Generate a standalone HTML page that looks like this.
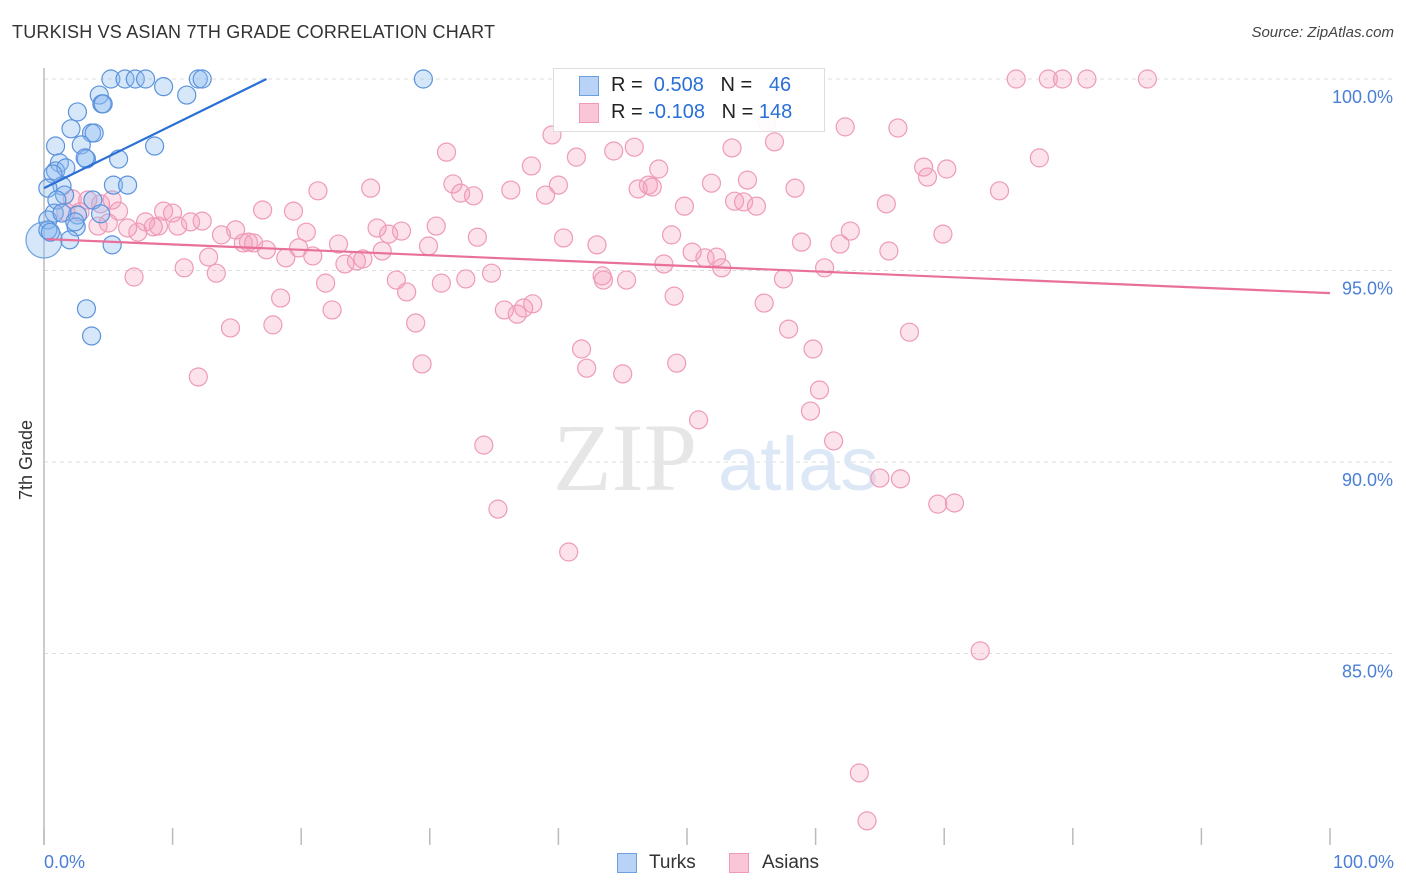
<!DOCTYPE html>
<html><head><meta charset="utf-8">
<style>
body{margin:0;background:#fff;font-family:"Liberation Sans",sans-serif;}
#wrap{position:relative;width:1406px;height:892px;overflow:hidden;}
.t{position:absolute;white-space:nowrap;}
</style></head>
<body>
<div id="wrap">
<div class="t" style="left:12px;top:22px;font-size:18px;color:#333;letter-spacing:0.2px">TURKISH VS ASIAN 7TH GRADE CORRELATION CHART</div>
<div class="t" style="right:12px;top:24px;font-size:15px;color:#444;font-style:italic">Source: ZipAtlas.com</div>
<svg id="svg" width="1406" height="892" style="position:absolute;left:0;top:0"></svg>
</div>
<script>
const yTicks=[100,95,90,85];
const yTickLabels=["100.0%","95.0%","90.0%","85.0%"];
const turksX=[5.2,6.3,7.1,7.9,9.3,11.1,12.0,12.3,29.5,4.3,4.5,4.6,2.6,2.1,3.7,3.9,0.9,2.9,8.6,3.3,1.2,5.8,3.2,0.9,1.7,5.4,6.5,1.4,1.6,0.7,0.3,1.0,3.8,2.6,4.4,0.8,0.3,2.5,2.0,5.3,3.3,3.7,0.3,0.5,1.4,2.4];
const turksY=[100,100,100,100,99.8,99.58,100,100,100,99.58,99.35,99.35,99.14,98.7,98.59,98.59,98.25,98.28,98.25,97.91,97.81,97.91,97.94,97.6,97.68,97.23,97.23,97.21,96.97,97.52,97.15,96.84,96.84,96.45,96.48,96.5,96.32,96.14,95.8,95.67,94.0,93.29,96.06,96.0,96.5,96.27];
const asiansX=[75.6,78.1,79.2,81.1,85.8,56.2,62.3,66.4,56.8,39.5,31.3,41.4,44.3,45.9,53.5,77.4,37.9,47.8,68.4,70.2,68.7,54.7,31.8,32.4,33.4,36.3,40.0,39.0,46.2,47.0,47.3,51.9,58.4,74.3,21.3,25.4,49.8,53.7,54.4,55.4,65.5,17.0,19.4,9.3,10.0,5.8,4.4,2.2,3.4,2.8,1.7,5.3,7.9,8.9,10.4,12.3,11.4,8.5,7.3,6.5,4.2,5.0,14.9,13.8,20.4,25.9,27.8,30.5,26.8,33.7,40.4,43.0,48.8,58.9,62.7,61.9,69.9,15.5,15.9,16.3,17.3,19.8,22.9,26.3,29.9,50.4,51.4,52.3,18.8,20.9,23.4,24.3,24.8,12.8,10.9,13.4,7.0,34.8,32.8,30.9,27.4,21.9,28.2,18.4,43.4,43.5,45.3,48.2,52.7,57.5,60.7,65.7,49.0,56.0,38.0,37.3,35.8,36.8,22.4,28.9,14.5,17.8,57.9,67.3,59.8,41.8,42.2,29.4,49.2,45.0,12.0,60.3,59.6,50.9,34.2,61.4,65.0,66.6,69.5,70.8,35.3,40.8,72.8,63.4,64.0];
const asiansY=[100,100,100,100,100,98.88,98.75,98.72,98.36,98.54,98.09,97.96,98.12,98.22,98.2,97.94,97.73,97.65,97.7,97.65,97.44,97.36,97.26,97.02,96.95,97.1,97.23,96.97,97.13,97.23,97.18,97.28,97.15,97.08,97.08,97.15,96.68,96.81,96.79,96.68,96.74,96.58,96.55,96.55,96.5,96.55,96.74,96.87,96.84,96.53,96.53,96.84,96.27,96.16,96.16,96.29,96.27,96.14,96.0,96.11,96.16,96.24,96.06,95.93,96.0,96.11,96.03,96.16,95.95,95.87,95.85,95.67,95.93,95.74,96.03,95.69,95.95,95.72,95.74,95.72,95.54,95.59,95.69,95.51,95.64,95.48,95.33,95.35,95.33,95.38,95.17,95.25,95.3,95.35,95.07,94.93,94.83,94.93,94.78,94.67,94.75,94.67,94.44,94.28,94.86,94.75,94.75,95.17,95.07,94.78,95.07,95.51,94.33,94.15,94.13,94.02,93.97,93.86,93.97,93.63,93.5,93.58,93.47,93.39,92.95,92.95,92.45,92.56,92.58,92.3,92.22,91.88,91.33,91.1,90.44,90.55,89.58,89.56,88.9,88.93,88.77,87.65,85.07,81.88,80.63];
const turksTrend=[0,97.15,17.3,100];
const asiansTrend=[0.2,95.82,100,94.41];

const NS="http://www.w3.org/2000/svg";
const svg=document.getElementById('svg');
const X=v=>44+v*12.86;
const Y=v=>79+(100-v)*38.3;
function mk(tag,attrs,parent){const e=document.createElementNS(NS,tag);for(const k in attrs)e.setAttribute(k,attrs[k]);(parent||svg).appendChild(e);return e;}

// gridlines + labels
yTicks.forEach((t,i)=>{
  const g=mk('line',{x1:44,x2:1395,y1:Y(t),y2:Y(t),stroke:'#ddd','stroke-dasharray':'4,4'});
  
  
  const tx=mk('text',{x:1393,y:Y(t)+24,'text-anchor':'end','font-size':18,fill:'#4a7fd6','font-family':'Liberation Sans'});
  tx.textContent=yTickLabels[i];
  
  
});
// axes
const ya=mk('line',{x1:44,x2:44,y1:68,y2:845,stroke:'#bbb','stroke-width':1.5});


for(let i=0;i<=10;i++){
  const tk=mk('line',{x1:X(i*10),x2:X(i*10),y1:828,y2:845,stroke:'#bbb','stroke-width':1.5});
  
  
}
// watermark
const wm=mk('text',{x:553,y:490,'font-size':96,fill:'#e6e6e6','font-family':'Liberation Serif'});
wm.textContent='ZIP';


const wm2=mk('text',{x:718,y:490,'font-size':76,fill:'#dde8f6','font-family':'Liberation Sans'});
wm2.textContent='atlas';



// pink points
asiansX.forEach((x,i)=>{
  const c=mk('circle',{cx:X(x),cy:Y(asiansY[i]),r:9,fill:'rgba(244,160,190,0.3)',stroke:'#ee9ab8','stroke-width':1.2});
  
  
});
// blue points
const big=mk('circle',{cx:44,cy:240,r:18,fill:'rgba(140,185,240,0.35)',stroke:'#6ea0e0','stroke-width':1.2});


turksX.forEach((x,i)=>{
  const c=mk('circle',{cx:X(x),cy:Y(turksY[i]),r:9,fill:'rgba(140,185,240,0.35)',stroke:'#5b93dc','stroke-width':1.2});
  
  
});
// trend lines
const tl1=mk('line',{x1:X(turksTrend[0]),y1:Y(turksTrend[1]),x2:X(turksTrend[2]),y2:Y(turksTrend[3]),stroke:'#2a6fd6','stroke-width':2.2});


const tl2=mk('line',{x1:X(asiansTrend[0]),y1:Y(asiansTrend[1]),x2:X(asiansTrend[2]),y2:Y(asiansTrend[3]),stroke:'#e8709a','stroke-width':2.2});


</script>
<div class="t" style="left:553px;top:68px;width:270px;height:62px;border:1px solid #ddd;background:rgba(255,255,255,0.9)">
  <div class="t" style="left:25px;top:7px;width:20px;height:20px;background:#b8d3f5;border:1px solid #6ea0e0;box-sizing:border-box"></div>
  <div class="t" style="left:57px;top:5px;font-size:20px;color:#222">R = <span style="color:#2a6fd6">&nbsp;0.508</span>&nbsp;&nbsp;&nbsp;N = <span style="color:#2a6fd6">&nbsp;&nbsp;46</span></div>
  <div class="t" style="left:25px;top:34px;width:20px;height:20px;background:#f8c6d6;border:1px solid #ee9ab8;box-sizing:border-box"></div>
  <div class="t" style="left:57px;top:32px;font-size:20px;color:#222">R = <span style="color:#2a6fd6">-0.108</span>&nbsp;&nbsp;&nbsp;N = <span style="color:#2a6fd6">148</span></div>
</div>
<div class="t" style="left:44px;top:852px;font-size:18px;color:#4a7fd6">0.0%</div>
<div class="t" style="right:12px;top:852px;font-size:18px;color:#4a7fd6">100.0%</div>
<div class="t" style="left:16px;top:500px;font-size:18px;color:#333;transform:rotate(-90deg);transform-origin:left top">7th Grade</div>
<div class="t" style="left:617px;top:853px;width:20px;height:20px;background:#b8d3f5;border:1px solid #6ea0e0;box-sizing:border-box"></div>
<div class="t" style="left:649px;top:852px;font-size:19px;color:#333">Turks</div>
<div class="t" style="left:729px;top:853px;width:20px;height:20px;background:#f8c6d6;border:1px solid #ee9ab8;box-sizing:border-box"></div>
<div class="t" style="left:762px;top:852px;font-size:19px;color:#333">Asians</div>
</body></html>
